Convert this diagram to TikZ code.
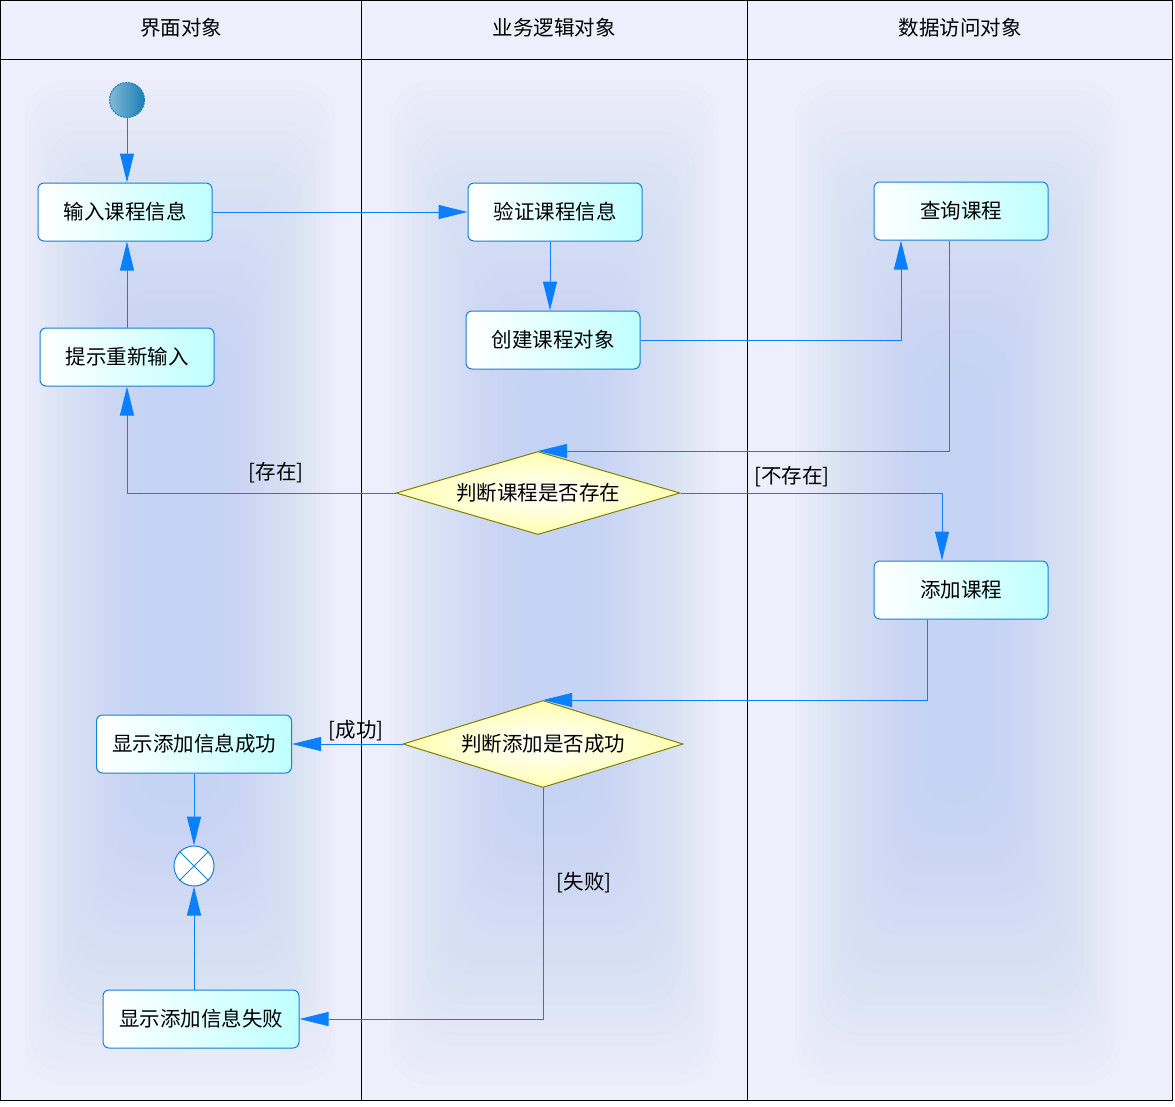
\documentclass[tikz,border=0pt]{standalone}
\usepackage{fontspec}
\setmainfont{Noto Sans CJK SC}
\usetikzlibrary{shapes.geometric,arrows.meta,calc}
\definecolor{bgc}{RGB}{238,238,252}
\definecolor{glowc}{RGB}{192,212,244}
\definecolor{flow}{RGB}{10,128,255}
\definecolor{boxline}{RGB}{20,130,210}
\definecolor{boxfill}{RGB}{192,255,255}
\definecolor{diafill}{RGB}{255,255,176}
\definecolor{dialine}{RGB}{128,128,0}
\definecolor{startc}{RGB}{26,127,181}
\begin{document}
\begin{tikzpicture}[x=1pt,y=-1pt,
  font=\fontsize{20.5}{24}\selectfont,
  actbox/.style={draw=boxline, line width=1pt, rounded corners=6pt,
    left color=white, right color=boxfill, minimum width=174pt,
    minimum height=58pt, inner sep=0pt},
  decision/.style={diamond, draw=dialine, line width=1pt, inner sep=0pt,
    aspect=3.4, inner color=white, outer color=diafill},
  flowarr/.style={draw=flow, line width=1pt,
    -{Triangle[length=29pt,width=14pt,fill=flow]}},
  guard/.style={text=black},
  header/.style={text=black},
  lanes/.style={draw=black, line width=1pt}]
\useasboundingbox (0,0) rectangle (1175,1106);
\fill[white] (0,0) rectangle (1175,1106);
\fill[bgc] (0.5,0.5) rectangle (1172,1100);
% glows
\foreach \i in {0,...,29}{
  \fill[glowc, opacity=0.04, rounded corners=40pt]
    (25+4*\i, 80+10*\i) rectangle (335-4*\i, 1085-10*\i);
  \fill[glowc, opacity=0.04, rounded corners=40pt]
    (390+4.5*\i, 80+10*\i) rectangle (718-4.5*\i, 1085-10*\i);
  \fill[glowc, opacity=0.04, rounded corners=40pt]
    (795+4.5*\i, 80+10*\i) rectangle (1120-4.5*\i, 1085-10*\i);
}
% lanes
\draw[lanes] (0.5,0.5) rectangle (1172,1100);
\draw[lanes] (0.5,59) -- (1172,59);
\draw[lanes] (361,0.5) -- (361,1100);
\draw[lanes] (747,0.5) -- (747,1100);
\node[header] (h1) at (181,28) {界面对象};
\node[header] (h2) at (554,28) {业务逻辑对象};
\node[header] (h3) at (960,28) {数据访问对象};
% nodes
\node[circle, minimum size=35pt, inner sep=0pt, draw=startc, line width=1pt,
  dash pattern=on 2pt off 1pt, left color=startc!55!white, right color=startc] (st) at (127,100) {};
\node[actbox] (sr) at (125,212) {输入课程信息};
\node[actbox] (yz) at (555,212) {验证课程信息};
\node[actbox] (cx) at (961,211) {查询课程};
\node[actbox] (cj) at (553,340) {创建课程对象};
\node[actbox] (ts) at (127,357) {提示重新输入};
\node[decision, minimum width=284pt, minimum height=83pt] (d1) at (538,493) {判断课程是否存在};
\node[actbox] (tj) at (961,590) {添加课程};
\node[decision, minimum width=280pt, minimum height=87pt] (d2) at (543,744) {判断添加是否成功};
\node[actbox, minimum width=195pt] (cg) at (194,744) {显示添加信息成功};
\node[circle, draw=boxline, line width=1pt, fill=white, minimum size=40pt, inner sep=0pt] (en) at (194,866) {};
\draw[boxline, line width=1pt] (en.north west) -- (en.south east) (en.north east) -- (en.south west);
\node[actbox, minimum width=196pt] (sb) at (201,1019) {显示添加信息失败};
% guards
\node[guard] (g1) at (276,473) {[存在]};
\node[guard] (g2) at (792,477) {[不存在]};
\node[guard] (g3) at (356,731) {[成功]};
\node[guard] (g4) at (584,883) {[失败]};
% connectors
\draw[flowarr] (st.south) -- (st.south |- sr.north);
\draw[flowarr] (sr.east) -- (sr.east -| yz.west);
\draw[flowarr] ([xshift=-5pt]yz.south) -- ([xshift=-5pt]yz.south |- cj.north);
\draw[flowarr] (cj.east) -| ([xshift=-60pt]cx.south);
\draw[flowarr] ([xshift=-12pt]cx.south) |- (d1.north);
\draw[flowarr] (d1.west) -| (ts.south);
\draw[flowarr] (ts.north) -- (ts.north |- sr.south);
\draw[flowarr] (d1.east) -| ([xshift=-19pt]tj.north);
\draw[flowarr] ([xshift=-34pt]tj.south) |- (d2.north);
\draw[flowarr] (d2.west) -- (d2.west -| cg.east);
\draw[flowarr] (cg.south -| en) -- (en.north);
\draw[flowarr] (d2.south) |- (sb.east);
\draw[flowarr] (sb.north -| en) -- (en.south);
\end{tikzpicture}
\end{document}
